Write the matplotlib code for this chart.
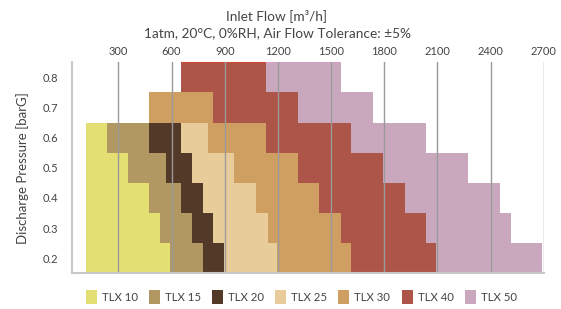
import matplotlib
matplotlib.use("Agg")
import matplotlib.pyplot as plt
import numpy as np
from matplotlib.patches import Rectangle

pressures = ["0.2", "0.3", "0.4", "0.5", "0.6", "0.7", "0.8"]
start_flow = [118, 118, 118, 118, 118, 473, 655]
series_names = ["TLX 10", "TLX 15", "TLX 20", "TLX 25", "TLX 30", "TLX 40", "TLX 50"]
tlx10 = [473, 417, 355, 236, 118, 0, 0]
tlx15 = [185, 181, 182, 215, 237, 0, 0]
tlx20 = [120, 116, 123, 147, 182, 0, 0]
tlx25 = [297, 314, 299, 236, 149, 0, 0]
tlx30 = [420, 410, 355, 360, 329, 359, 0]
tlx40 = [479, 478, 485, 481, 480, 480, 478]
tlx50 = [598, 480, 534, 478, 421, 423, 423]
colors = ["#E4DF73", "#B19761", "#523928", "#E8CD9B", "#CF9F61", "#AE5549", "#C9A8BD"]
x_ticks = [300, 600, 900, 1200, 1500, 1800, 2100, 2400, 2700]

plt.rcParams['font.family'] = ['Lato', 'DejaVu Sans']
text_color = "#444444"

W, H = 561, 309
fig = plt.figure(figsize=(W/100, H/100), dpi=100)
ax = fig.add_axes([72/W, 1 - 273.3/H, (543.8-72)/W, (273.3-62.3)/H])

y = np.arange(len(pressures))
left = np.array(start_flow, dtype=float)
all_series = [tlx10, tlx15, tlx20, tlx25, tlx30, tlx40, tlx50]
for name, vals, c in zip(series_names, all_series, colors):
    v = np.array(vals, dtype=float)
    ax.barh(y, v, left=left, height=1.0, color=c, edgecolor='none', label=name, zorder=2)
    left = left + v

# thin top edge on highest row
top = len(pressures) - 1
l = start_flow[top]
for vals, c in zip(all_series, ["#E4DF73", "#B19761", "#523928", "#E8CD9B", "#CF9F61", "#E0402C", "#DDA0CC"]):
    if vals[top] > 0:
        ax.hlines(top + 0.5, l, l + vals[top], color=c, lw=1.2, zorder=3)
    l += vals[top]

ax.set_xlim(38, 2700)
ax.set_ylim(-0.5, len(pressures) - 0.5)
ax.xaxis.tick_top()
ax.set_xticks(x_ticks)
ax.set_xticklabels([str(t) for t in x_ticks])
ax.set_yticks(y)
ax.set_yticklabels(pressures)
ax.tick_params(axis='x', length=0, pad=4, labelsize=8, colors=text_color)
ax.tick_params(axis='y', length=0, pad=10, labelsize=8, colors=text_color)
for t in x_ticks:
    ax.axvline(t, color="#9a9a9a", lw=1.0, zorder=4)

for s in ['top', 'right']:
    ax.spines[s].set_visible(False)
for s in ['left', 'bottom']:
    ax.spines[s].set_color("#c8c8c8")
    ax.spines[s].set_linewidth(1.5)
    ax.spines[s].set_zorder(5)

ax.set_ylabel("Discharge Pressure [barG]", fontsize=9.5, color=text_color, labelpad=10)

fig.text(277/W, 1 - 16/H, "Inlet Flow [m³/h]", ha='center', va='center', fontsize=9.8, color=text_color)
fig.text(277/W, 1 - 33/H, "1atm, 20°C, 0%RH, Air Flow Tolerance: ±5%", ha='center', va='center', fontsize=9.8, color=text_color)

# legend
for i, (name, c) in enumerate(zip(series_names, colors)):
    x0 = 86 + 63.1 * i
    fig.patches.append(Rectangle((x0/W, 1 - 304/H), 11/W, 14/H, transform=fig.transFigure,
                                 facecolor=c, edgecolor='none'))
    fig.text((x0 + 16)/W, 1 - 297.5/H, name, ha='left', va='center', fontsize=8.2, color=text_color)

fig.savefig("out.png", dpi=100)
